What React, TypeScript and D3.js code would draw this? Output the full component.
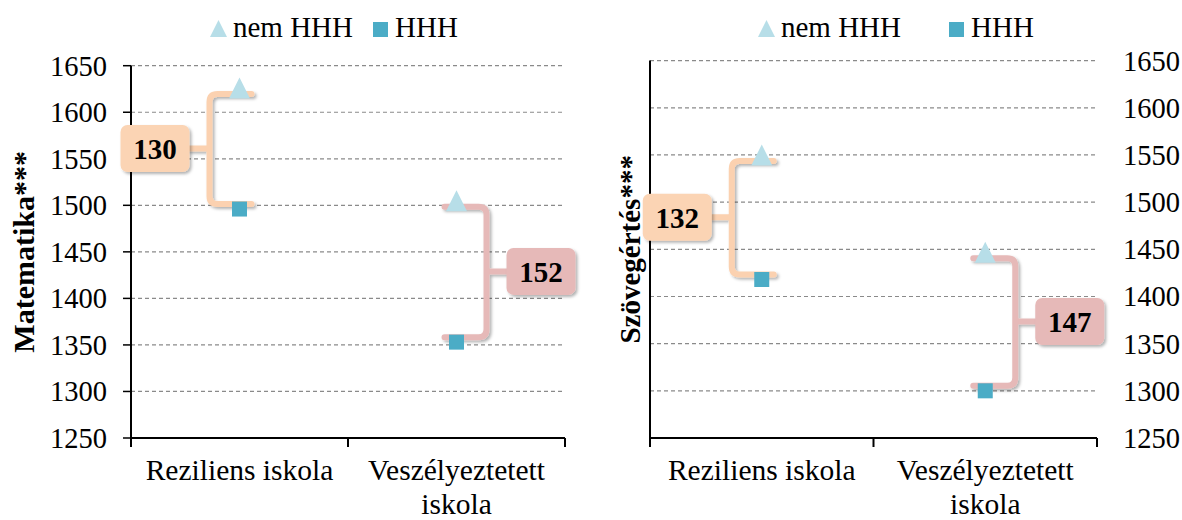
import React from "react";
import { scaleLinear, scaleBand, path as d3path } from "d3";

const categories = ["Reziliens iskola", "Veszélyeztetett iskola"];
const categoryLines = [["Reziliens iskola"], ["Veszélyeztetett", "iskola"]];
const seriesNames = ["nem HHH", "HHH"];
const yTicks = [1250, 1300, 1350, 1400, 1450, 1500, 1550, 1600, 1650];

const mathNemHHH = [1626, 1505];
const mathHHH = [1496, 1353];
const readNemHHH = [1550, 1447];
const readHHH = [1418, 1300];

const FONT = "Liberation Serif, DejaVu Serif, serif";
const TRI = "#b7dee8";
const SQ = "#4bacc6";
const BRACE = ["#fbd1b0", "#e6b9b8"];
const BOX = ["#fbd4b4", "#e6b9b8"];

function bracePath(bx, yTop, yBot, xTop, xBot, notchX, yMid) {
  const r = 8;
  const dir = xTop > bx ? 1 : -1;
  const p = d3path();
  p.moveTo(xTop, yTop);
  p.lineTo(bx + dir * r, yTop);
  p.quadraticCurveTo(bx, yTop, bx, yTop + r);
  p.lineTo(bx, yBot - r);
  p.quadraticCurveTo(bx, yBot, bx + dir * r, yBot);
  p.lineTo(xBot, yBot);
  p.moveTo(bx, yMid);
  p.lineTo(notchX, yMid);
  return p.toString();
}

function Panel({ x0, x1, yTopPx, yBotPx, top, bottom, title, titleX, titleSize, tickSide, legendX, legendGap }) {
  const y = scaleLinear().domain([1250, 1650]).range([yBotPx, yTopPx]);
  const x = scaleBand().domain(categories).range([x0, x1]);
  const bw = x.bandwidth();

  return (
    <g style={{ fontFamily: FONT }} fill="#000">
      {/* gridlines */}
      {yTicks.filter((t) => t > 1250).map((t) => (
        <line key={t} x1={x0} x2={x1} y1={y(t)} y2={y(t)} stroke="#8a8a8a" strokeWidth={1.2} strokeDasharray="4 3" />
      ))}
      {/* y axis */}
      <line x1={x0} x2={x0} y1={y(1650)} y2={y(1250)} stroke="#000" strokeWidth={2} />
      {tickSide === "left" && yTicks.map((t) => (
        <line key={"tk" + t} x1={x0 - 8} x2={x0} y1={y(t)} y2={y(t)} stroke="#000" strokeWidth={1.5} />
      ))}
      {yTicks.map((t) => (
        <text key={"tl" + t} x={tickSide === "left" ? x0 - 24 : x1 + 26} y={y(t)} dy="0.35em"
          textAnchor={tickSide === "left" ? "end" : "start"} fontSize={28.5}>{t}</text>
      ))}
      {/* x axis */}
      <line x1={x0} x2={x1} y1={y(1250)} y2={y(1250)} stroke="#000" strokeWidth={2} />
      {[x0, x0 + bw, x1].map((v, i) => (
        <line key={"xt" + i} x1={v} x2={v} y1={y(1250)} y2={y(1250) + 9} stroke="#000" strokeWidth={2} />
      ))}
      {categories.map((c, i) => (
        <text key={c} x={x(c) + bw / 2} y={y(1250) + 42} textAnchor="middle" fontSize={29.5}>
          {categoryLines[i].map((l, j) => (
            <tspan key={j} x={x(c) + bw / 2} dy={j === 0 ? 0 : 34}>{l}</tspan>
          ))}
        </text>
      ))}
      {/* title */}
      <text transform={`translate(${titleX},${(yTopPx + yBotPx) / 2}) rotate(-90)`} textAnchor="middle"
        fontSize={titleSize} fontWeight="bold">{title}</text>
      {/* braces and labels */}
      {categories.map((c, i) => {
        const cx = x(c) + bw / 2;
        const side = i === 0 ? -1 : 1;
        const bx = cx + side * 30;
        const yt = y(top[i]) + 6;
        const yb = y(bottom[i]) - 5;
        const ym = (y(top[i]) + y(bottom[i])) / 2;
        const notchX = bx + side * 20;
        const bxW = 69, bxH = 47;
        const rx = side < 0 ? notchX - bxW : notchX;
        return (
          <g key={"br" + c}>
            <path d={bracePath(bx, yt, yb, cx - side * 12, cx - side * 12, notchX, ym)} fill="none"
              stroke={BRACE[i]} strokeWidth={6} strokeLinecap="round" filter="url(#shadow)" />
            <rect x={rx} y={ym - bxH / 2} width={bxW} height={bxH} rx={7} fill={BOX[i]} filter="url(#shadow)" />
            <text x={rx + bxW / 2} y={ym} dy="0.36em" textAnchor="middle" fontSize={29} fontWeight="bold">
              {top[i] - bottom[i]}
            </text>
          </g>
        );
      })}
      {/* markers */}
      {categories.map((c) => {
        const cx = x(c) + bw / 2;
        const i = categories.indexOf(c);
        const ty = y(top[i]);
        const sy = y(bottom[i]);
        return (
          <g key={"m" + c}>
            <polygon points={`${cx},${ty - 10.5} ${cx + 10.5},${ty + 10.5} ${cx - 10.5},${ty + 10.5}`} fill={TRI} />
            <rect x={cx - 7.5} y={sy - 7.5} width={15} height={15} fill={SQ} />
          </g>
        );
      })}
      {/* legend */}
      <g>
        <polygon points={`${legendX + 8.5},20 ${legendX + 17},37 ${legendX},37`} fill={TRI} />
        <text x={legendX + 23} y={37} fontSize={29}>{seriesNames[0]}</text>
        <rect x={legendX + 163 + legendGap} y={22} width={15} height={15} fill={SQ} />
        <text x={legendX + 185 + legendGap} y={37} fontSize={29}>{seriesNames[1]}</text>
      </g>
    </g>
  );
}

export default function App() {
  return (
    <svg width={1182} height={520} style={{ position: "absolute", left: 0, top: 0, background: "#fff" }}>
      <defs>
        <filter id="shadow" x="-30%" y="-30%" width="160%" height="160%">
          <feDropShadow dx={2} dy={2} stdDeviation={1.8} floodColor="#000" floodOpacity={0.3} />
        </filter>
      </defs>
      <rect width={1182} height={520} fill="#fff" />
      <Panel x0={131} x1={565} yTopPx={65.7} yBotPx={438} top={mathNemHHH} bottom={mathHHH}
        title="Matematika***" titleX={34} titleSize={30} tickSide="left" legendX={210} legendGap={0} />
      <Panel x0={650} x1={1097} yTopPx={60.6} yBotPx={438} top={readNemHHH} bottom={readHHH}
        title="Szövegértés***" titleX={640} titleSize={29} tickSide="right" legendX={758} legendGap={28} />
    </svg>
  );
}
